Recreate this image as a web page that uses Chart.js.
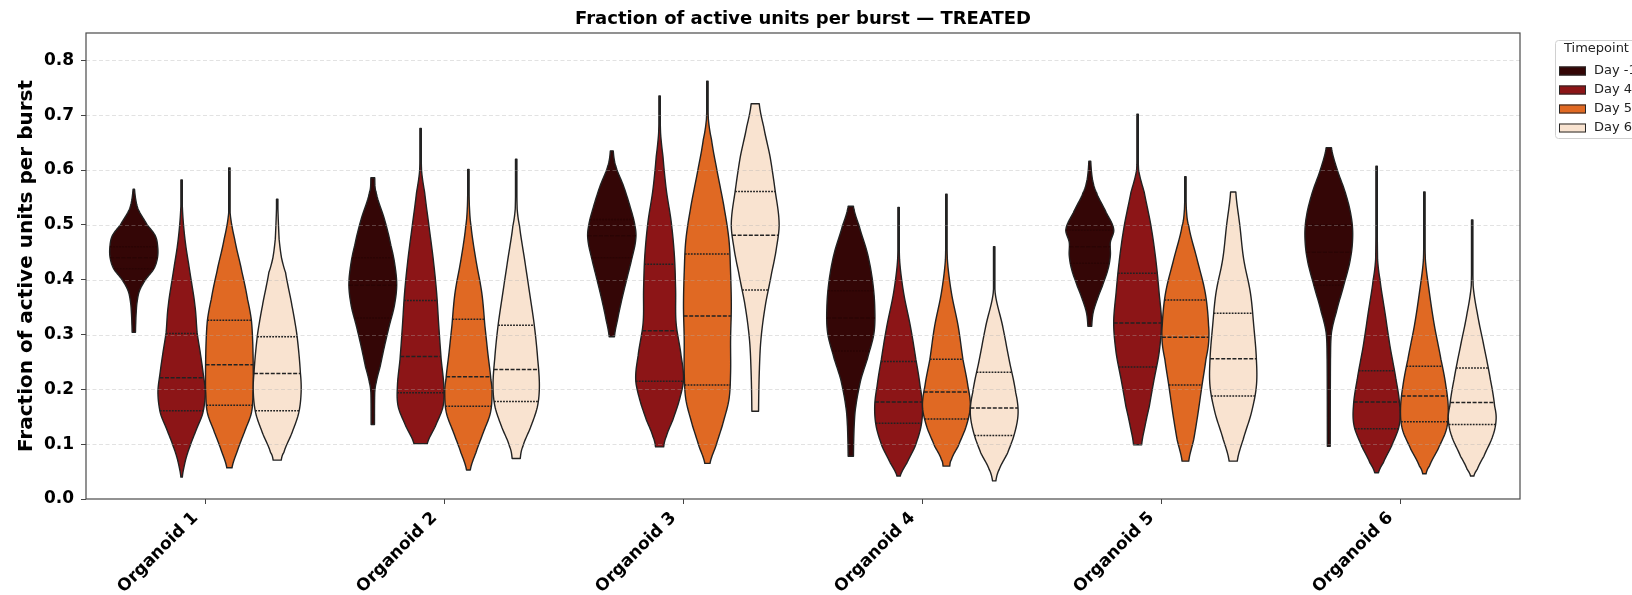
<!DOCTYPE html>
<html><head><meta charset="utf-8">
<script src="https://cdn.jsdelivr.net/npm/chart.js@4.4.0/dist/chart.umd.min.js"></script>
<style>html,body{margin:0;padding:0;background:#fff;}#wrap{width:1632px;height:595px;}</style>
</head><body><div id="wrap"><canvas id="c" width="1632" height="595"></canvas></div>
<script>
// ---------- DATA ----------
const organoids = ['Organoid 1','Organoid 2','Organoid 3','Organoid 4','Organoid 5','Organoid 6'];
const timepoints = ['Day -1','Day 4','Day 5','Day 6'];
const tpColors = ['#340606','#8c1517','#e06923','#f9e3d0'];
const yTicks = [0.0,0.1,0.2,0.3,0.4,0.5,0.6,0.7,0.8];

// violin outlines: [value, relative half-width] from top to bottom, one list per organoid
const profDayM1 = [
  [[.565,.03],[.53,.17],[.50,.56],[.48,.9],[.46,1.0],[.44,.99],[.42,.84],[.40,.49],[.38,.24],[.36,.14],[.34,.10],[.32,.08],[.304,.07]],
  [[.586,.08],[.559,.14],[.510,.49],[.462,.76],[.425,.93],[.389,1.0],[.352,.90],[.316,.69],[.279,.49],[.242,.31],[.212,.14],[.194,.08],[.136,.07]],
  [[.635,.06],[.607,.17],[.571,.49],[.534,.76],[.498,.97],[.473,1.0],[.437,.83],[.400,.62],[.364,.42],[.327,.24],[.296,.11]],
  [[.534,.11],[.498,.35],[.449,.69],[.401,.90],[.352,1.0],[.303,.97],[.255,.69],[.218,.42],[.169,.21],[.133,.14],[.078,.11]],
  [[.616,.04],[.583,.11],[.559,.28],[.522,.69],[.492,1.0],[.468,.86],[.444,.86],[.419,.76],[.389,.53],[.364,.31],[.340,.14],[.315,.08]],
  [[.641,.11],[.601,.35],[.559,.69],[.517,.93],[.480,1.0],[.437,.90],[.389,.62],[.340,.31],[.303,.11],[.255,.07],[.096,.06]]
];
const profDay4 = [
  [[.582,.02],[.534,.03],[.474,.14],[.413,.35],[.352,.56],[.303,.65],[.267,.78],[.230,.90],[.194,.99],[.157,.89],[.127,.62],[.096,.35],[.072,.17],[.040,.03]],
  [[.676,.02],[.599,.04],[.559,.17],[.498,.35],[.437,.53],[.376,.67],[.316,.76],[.255,.86],[.206,.97],[.169,.94],[.133,.62],[.101,.28]],
  [[.735,.02],[.668,.04],[.625,.14],[.564,.28],[.504,.49],[.443,.62],[.382,.67],[.321,.69],[.261,.90],[.218,1.0],[.181,.83],[.145,.56],[.114,.28],[.095,.17]],
  [[.532,.02],[.437,.04],[.376,.21],[.316,.49],[.255,.72],[.206,.90],[.169,1.0],[.133,.94],[.096,.69],[.066,.35],[.042,.07]],
  [[.702,.02],[.601,.04],[.559,.28],[.498,.56],[.437,.76],[.376,.90],[.321,1.0],[.267,.90],[.218,.69],[.169,.49],[.133,.31],[.099,.17]],
  [[.607,.02],[.437,.04],[.401,.14],[.340,.35],[.279,.56],[.218,.81],[.169,.97],[.133,.94],[.096,.62],[.066,.28],[.048,.08]]
];
const profDay5 = [
  [[.604,.02],[.522,.03],[.474,.22],[.413,.53],[.364,.76],[.326,.92],[.28,.98],[.22,1.0],[.194,.99],[.157,.92],[.121,.62],[.090,.35],[.057,.11]],
  [[.601,.02],[.535,.04],[.498,.11],[.437,.31],[.376,.56],[.316,.69],[.267,.81],[.218,.94],[.194,.99],[.157,.92],[.121,.62],[.084,.31],[.053,.08]],
  [[.762,.02],[.693,.04],[.656,.17],[.595,.42],[.534,.69],[.473,.90],[.413,.97],[.352,1.0],[.291,.97],[.230,.97],[.181,.90],[.133,.62],[.096,.35],[.065,.11]],
  [[.556,.02],[.437,.04],[.376,.21],[.316,.49],[.255,.69],[.206,.90],[.169,1.0],[.133,.83],[.096,.49],[.072,.21],[.060,.14]],
  [[.588,.02],[.528,.04],[.498,.14],[.437,.49],[.376,.83],[.316,.97],[.285,.97],[.255,.86],[.206,.69],[.157,.53],[.109,.35],[.069,.14]],
  [[.560,.02],[.437,.04],[.376,.21],[.316,.42],[.255,.69],[.206,.90],[.163,1.0],[.127,.92],[.090,.56],[.060,.21],[.046,.07]]
];
const profDay6 = [
  [[.547,.02],[.474,.08],[.44,.18],[.413,.35],[.352,.62],[.298,.83],[.230,.97],[.194,1.0],[.157,.90],[.121,.62],[.085,.28],[.071,.17]],
  [[.620,.02],[.529,.04],[.498,.14],[.437,.35],[.376,.56],[.316,.76],[.255,.90],[.206,.97],[.169,.89],[.133,.62],[.096,.28],[.074,.17]],
  [[.721,.17],[.680,.35],[.625,.62],[.564,.83],[.504,1.0],[.461,.90],[.413,.69],[.352,.42],[.291,.24],[.230,.17],[.160,.14]],
  [[.460,.02],[.376,.04],[.316,.35],[.255,.62],[.194,.90],[.157,1.0],[.121,.86],[.084,.56],[.054,.21],[.033,.07]],
  [[.560,.11],[.498,.28],[.437,.44],[.376,.72],[.316,.86],[.255,.97],[.206,.97],[.157,.76],[.109,.42],[.069,.17]],
  [[.509,.02],[.389,.04],[.340,.21],[.279,.49],[.218,.76],[.169,.94],[.145,1.0],[.115,.86],[.078,.49],[.054,.21],[.042,.07]]
];

// quartiles [Q1, median, Q3] per organoid
const quartDayM1 = [[.42,.44,.46],[.33,.39,.44],[.44,.48,.51],[.27,.33,.38],[.43,.46,.49],[.39,.45,.50]];
const quartDay4  = [[.161,.221,.302],[.194,.260,.362],[.215,.307,.428],[.138,.177,.251],[.241,.321,.412],[.128,.177,.234]];
const quartDay5  = [[.171,.245,.326],[.169,.223,.328],[.208,.334,.447],[.146,.195,.255],[.208,.295,.363],[.141,.188,.242]];
const quartDay6  = [[.161,.229,.296],[.178,.236,.317],[.381,.481,.561],[.116,.166,.231],[.188,.256,.339],[.136,.176,.239]];

const profiles = [profDayM1, profDay4, profDay5, profDay6];
const quartiles = [quartDayM1, quartDay4, quartDay5, quartDay6];

// ---------- DRAWING ----------
const FONT = "'DejaVu Sans', 'Liberation Sans', sans-serif";

function denseProfile(pts, yScale, halfMax) {
  const P = pts.map(p => [yScale.getPixelForValue(p[0]), p[1] * halfMax]);
  const out = [];
  const f = (a,b,c,d,t) => { const t2=t*t, t3=t2*t; return 0.5*((2*b)+(-a+c)*t+(2*a-5*b+4*c-d)*t2+(-a+3*b-3*c+d)*t3); };
  for (let i = 0; i < P.length - 1; i++) {
    const p0 = P[Math.max(0,i-1)], p1 = P[i], p2 = P[i+1], p3 = P[Math.min(P.length-1,i+2)];
    const n = 12;
    for (let s = 0; s < n; s++) {
      const t = s / n;
      out.push([p1[0] + (p2[0]-p1[0])*t, Math.max(0.7, f(p0[1],p1[1],p2[1],p3[1],t))]);
    }
  }
  out.push([P[P.length-1][0], Math.max(0.7, P[P.length-1][1])]);
  return out;
}
function halfAt(dense, y) {
  for (let i = 0; i < dense.length - 1; i++) {
    const a = dense[i], b = dense[i+1];
    if ((y >= a[0] && y <= b[0]) || (y <= a[0] && y >= b[0])) {
      const t = (b[0] === a[0]) ? 0 : (y - a[0]) / (b[0] - a[0]);
      return a[1] + (b[1]-a[1]) * t;
    }
  }
  return 0;
}

const violinPlugin = {
  id: 'violins',
  beforeDatasetsDraw(chart) {
    const ctx = chart.ctx, xs = chart.scales.x, ys = chart.scales.y, ca = chart.chartArea;
    const catW = xs.getPixelForValue(1) - xs.getPixelForValue(0);
    const slot = catW * 0.2;
    const halfMax = slot / 2;
    const offs = [-0.3, -0.1, 0.1, 0.3];
    ctx.save();
    ctx.beginPath(); ctx.rect(ca.left, ca.top, ca.right-ca.left, ca.bottom-ca.top); ctx.clip();
    for (let t = 0; t < timepoints.length; t++) {
      for (let o = 0; o < organoids.length; o++) {
        const cx = xs.getPixelForValue(o) + offs[t] * catW;
        const d = denseProfile(profiles[t][o], ys, halfMax);
        ctx.beginPath();
        ctx.moveTo(cx + d[0][1], d[0][0]);
        for (let i = 1; i < d.length; i++) ctx.lineTo(cx + d[i][1], d[i][0]);
        for (let i = d.length - 1; i >= 0; i--) ctx.lineTo(cx - d[i][1], d[i][0]);
        ctx.closePath();
        ctx.fillStyle = tpColors[t];
        ctx.fill();
        ctx.lineJoin = 'round';
        ctx.lineWidth = 1.4;
        ctx.strokeStyle = '#222';
        ctx.setLineDash([]);
        ctx.stroke();
        // quartile lines
        const q = quartiles[t][o];
        for (let k = 0; k < 3; k++) {
          const y = ys.getPixelForValue(q[k]);
          const h = halfAt(d, y);
          ctx.beginPath();
          ctx.moveTo(cx - h, y); ctx.lineTo(cx + h, y);
          ctx.lineWidth = 1.5;
          ctx.strokeStyle = t === 0 ? '#2a0404' : '#222';
          ctx.setLineDash(k === 1 ? [4, 1.6] : [1.8, 1.2]);
          ctx.stroke();
        }
      }
    }
    // gridlines on top (light, dashed)
    ctx.setLineDash([4, 2.5]);
    ctx.lineWidth = 0.8;
    ctx.strokeStyle = 'rgba(175,175,175,0.45)';
    ys.ticks.forEach(tk => {
      if (tk.value <= 0.0001) return;
      const y = Math.round(ys.getPixelForValue(tk.value)) + 0.5;
      ctx.beginPath(); ctx.moveTo(ca.left, y); ctx.lineTo(ca.right, y); ctx.stroke();
    });
    ctx.restore();
  },
  afterDraw(chart) {
    const ctx = chart.ctx, ca = chart.chartArea;
    ctx.save();
    // frame
    ctx.setLineDash([]);
    ctx.strokeStyle = '#4a4a4a';
    ctx.lineWidth = 1.2;
    ctx.strokeRect(ca.left, ca.top, ca.right - ca.left, ca.bottom - ca.top);
    // title
    ctx.fillStyle = '#000';
    ctx.font = "bold 18px " + FONT;
    ctx.textAlign = 'center'; ctx.textBaseline = 'middle';
    ctx.fillText('Fraction of active units per burst \u2014 TREATED', (ca.left + ca.right) / 2, 19);
    // y label
    ctx.save();
    ctx.translate(27, (ca.top + ca.bottom) / 2);
    ctx.rotate(-Math.PI / 2);
    ctx.font = "bold 20px " + FONT;
    ctx.fillText('Fraction of active units per burst', 0, 0);
    ctx.restore();
    // legend (runs past the right edge, as in the reference)
    const lx = 1555, ly = 40;
    ctx.fillStyle = 'rgba(255,255,255,0.9)';
    ctx.strokeStyle = '#d0d0d0';
    ctx.lineWidth = 1;
    ctx.beginPath();
    if (ctx.roundRect) ctx.roundRect(lx + 0.5, ly + 0.5, 120, 98, 3); else ctx.rect(lx + 0.5, ly + 0.5, 120, 98);
    ctx.fill(); ctx.stroke();
    ctx.fillStyle = '#222';
    ctx.font = "13px " + FONT;
    ctx.textAlign = 'left'; ctx.textBaseline = 'middle';
    ctx.fillText('Timepoint', 1564, 49);
    for (let t = 0; t < timepoints.length; t++) {
      const cy = 71 + t * 19;
      ctx.fillStyle = tpColors[t];
      ctx.fillRect(1559, cy - 4.5, 27, 9);
      ctx.strokeStyle = '#262626'; ctx.lineWidth = 1;
      ctx.strokeRect(1559 + 0.5, cy - 4.5 + 0.5, 26, 8);
      ctx.fillStyle = '#222';
      ctx.fillText(timepoints[t], 1594, cy);
    }
    ctx.restore();
  }
};

new Chart(document.getElementById('c'), {
  type: 'line',
  data: {
    labels: organoids,
    datasets: timepoints.map((tp, t) => ({
      label: tp,
      data: quartiles[t].map(q => q[1]),
      showLine: false, pointRadius: 0, pointHoverRadius: 0,
      borderColor: tpColors[t], backgroundColor: tpColors[t]
    }))
  },
  options: {
    responsive: false,
    devicePixelRatio: 1,
    animation: false,
    events: [],
    layout: { padding: { top: 33, right: 112, left: 0, bottom: 0 } },
    plugins: { legend: { display: false }, title: { display: false }, tooltip: { enabled: false } },
    scales: {
      x: {
        type: 'category',
        offset: true,
        grid: { offset: false, drawOnChartArea: false, drawTicks: true, tickLength: 5, tickColor: '#444', tickWidth: 1 },
        border: { display: false },
        ticks: { color: '#000', font: { family: FONT, size: 17, weight: 'bold' }, minRotation: 45, maxRotation: 45, padding: 4, labelOffset: -10, autoSkip: false },
        afterFit: s => { s.height = 96; }
      },
      y: {
        type: 'linear', min: 0, max: 0.85,
        afterBuildTicks: s => { s.ticks = yTicks.map(v => ({ value: v })); },
        grid: { drawOnChartArea: false, drawTicks: true, tickLength: 5, tickColor: '#444', tickWidth: 1 },
        border: { display: false },
        ticks: { color: '#000', font: { family: FONT, size: 17, weight: 'bold' }, padding: 7, callback: v => Number(v).toFixed(1) },
        afterFit: s => { s.width = 86; }
      }
    }
  },
  plugins: [violinPlugin]
});
</script>
</body></html>
